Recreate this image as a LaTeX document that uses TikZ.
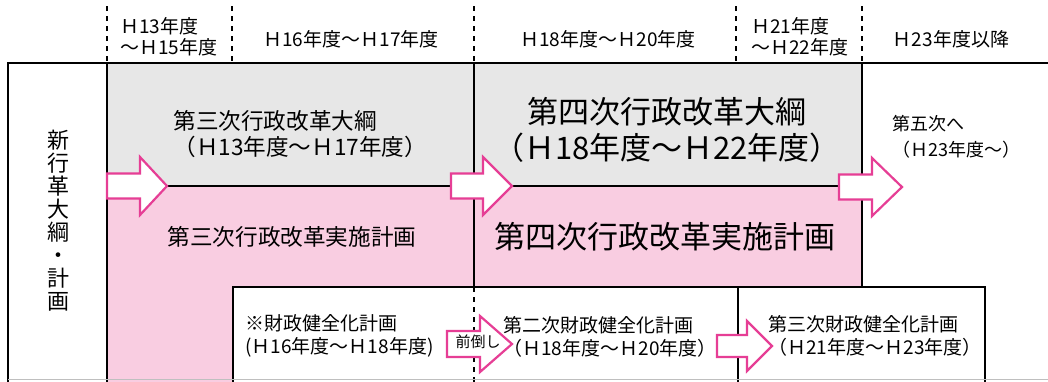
\documentclass[tikz,border=0pt]{standalone}
\usepackage{fontspec}
\setmainfont{Noto Sans CJK JP}
\usepackage[HTML]{xcolor}
\usepackage{tikz}

\definecolor{planpink}{HTML}{F9CDE1}
\definecolor{outlinegray}{HTML}{E7E7E7}
\definecolor{arrowpink}{HTML}{E63E95}

% block arrow: tail x, mid y, head start x, tip x, half shaft, half head
\newcommand{\fatarrow}[6]{%
  \draw[fatarrow] (#1,#2-#5) -- (#3,#2-#5) -- (#3,#2-#6) -- (#4,#2)
    -- (#3,#2+#6) -- (#3,#2+#5) -- (#1,#2+#5) -- cycle;}

\tikzset{
  hdr/.style={inner sep=0pt, align=left, font=\fontsize{9.5}{10.5}\selectfont},
  body/.style={inner sep=0pt, align=left, font=\fontsize{11.3}{13}\selectfont},
  big/.style={inner sep=0pt, align=center, font=\fontsize{15.5}{18}\selectfont},
  fin/.style={inner sep=0pt, align=left, font=\fontsize{9.5}{11.5}\selectfont},
  divider/.style={line width=0.9pt},
  hdrdash/.style={line width=1pt, dash pattern=on 2.5pt off 2.5pt},
  fatarrow/.style={draw=arrowpink, line width=1.1pt, fill=white, line join=miter},
}

\begin{document}
\begin{tikzpicture}[x=0.5pt, y=-0.5pt]
\useasboundingbox (0,0) rectangle (1048,381);
\begin{scope}
\clip (0,0) rectangle (1048,381);
% shaded bands
\fill[outlinegray] (107,63) rectangle (862,186);
\fill[planpink] (107,186) rectangle (862,400);
% finance plan boxes
\filldraw[fill=white, divider] (233,400) -- (233,287) -- (738,287) -- (738,400);
\filldraw[fill=white, divider] (738,400) -- (738,287) -- (985,287) -- (985,400);
% frame and dividers
\draw[line width=1.1pt] (8,400) -- (8,63) -- (1048,63);
\draw[divider] (107,63) -- (107,400);
\draw[divider] (107,186) -- (862,186);
\draw[divider] (474,63) -- (474,287);
\draw[hdrdash] (474,287) -- (474,400);
\draw[divider] (862,63) -- (862,287);
\draw[black!25, line width=0.5pt] (8,379) -- (1048,379);
% year ticks in the header
\foreach \xx in {107,232,474,736,862}
  \draw[hdrdash] (\xx,6) -- (\xx,63);
\end{scope}

% header labels
\node[hdr, anchor=west] (hdrA) at (120,36.5) {Ｈ13年度\\～Ｈ15年度};
\node[hdr] (hdrB) at (351,39) {Ｈ16年度～Ｈ17年度};
\node[hdr] (hdrC) at (608,39) {Ｈ18年度～Ｈ20年度};
\node[hdr, anchor=west] (hdrD) at (751,36.5) {Ｈ21年度\\～Ｈ22年度};
\node[hdr] (hdrE) at (951,39) {Ｈ23年度以降};

% left column label
\node[inner sep=0pt, align=center, font=\fontsize{11}{11.5}\selectfont] (side) at (58,221)
  {新\\行\\革\\大\\綱\\・\\計\\画};

% outlines
\node[body, anchor=west] (outline3) at (173,134) {第三次行政改革大綱\\（Ｈ13年度～Ｈ17年度）};
\node[big] (outline4) at (667,130) {第四次行政改革大綱\\（Ｈ18年度～Ｈ22年度）};
\node[body, anchor=west, font=\fontsize{9}{13}\selectfont] (outline5) at (892,137) {第五次へ\\（Ｈ23年度～）};

% implementation plans
\node[body] (plan3) at (292,237) {第三次行政改革実施計画};
\node[big] (plan4) at (665,237) {第四次行政改革実施計画};

% transition arrows
\fatarrow{107}{186}{140}{167}{12.5}{29}
\fatarrow{451}{186}{483}{512}{12.5}{29}
\fatarrow{839}{187}{872}{902}{12.5}{29}
\fatarrow{447}{344}{480}{512}{13}{28}
\fatarrow{717}{346}{747}{772}{11}{25}

% finance plans
\node[fin, anchor=west] (fin1) at (245,335.5) {※財政健全化計画\\(Ｈ16年度～Ｈ18年度)};
\node[inner sep=0pt, font=\fontsize{7.5}{8}\selectfont] (ahead) at (478,342) {前倒し};
\node[fin, anchor=west] (fin2) at (503,336.5) {第二次財政健全化計画\\（Ｈ18年度～Ｈ20年度）};
\node[fin, anchor=west] (fin3) at (768,335.5) {第三次財政健全化計画\\（Ｈ21年度～Ｈ23年度）};
\end{tikzpicture}
\end{document}
